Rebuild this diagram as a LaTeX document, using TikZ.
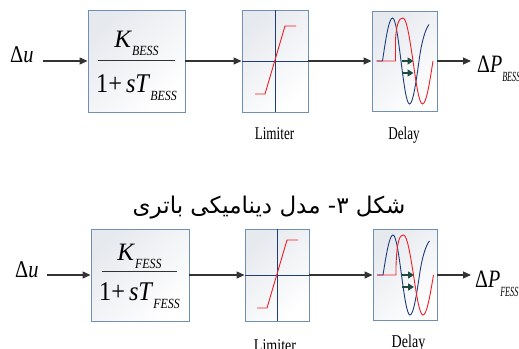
\documentclass[tikz,border=0pt]{standalone}
\usepackage{fontspec}
\setmainfont{Liberation Serif}
\newfontfamily\arabicfont[Script=Arabic]{DejaVu Sans}
\TeXXeTstate=1
\usetikzlibrary{arrows.meta}
\definecolor{boxedge}{HTML}{6F8FB5}
\definecolor{boxgray}{HTML}{E6E9EE}
\definecolor{axisblue}{HTML}{1F3C7A}
\definecolor{sigred}{HTML}{F01E23}
\definecolor{arrowgreen}{HTML}{1E4A40}
\definecolor{conncol}{HTML}{333333}
\newcommand\subtxt[2][-8pt]{\raisebox{#1}{\fontsize{14}{14}\selectfont\itshape\scalebox{0.85}[1]{#2}}}
\newcommand\outsub[1]{\raisebox{-9pt}{\fontsize{14}{14}\selectfont\itshape\scalebox{0.58}[1]{#1}}}
\newcommand\drawlimiter[1]{%
  \draw[axisblue, line width=0.9pt] (#1.north) -- (#1.south);
  \draw[axisblue, line width=0.9pt] (#1.west) -- (#1.east);
  \draw[sigred, line width=0.9pt] ([shift={(-20,33)}]#1.center) -- ([shift={(-10,33)}]#1.center)
     -- ([shift={(10,-35)}]#1.center) -- ([shift={(21,-35)}]#1.center);}
\newcommand\drawdelay[3]{%
  \draw[axisblue, line width=0.9pt] ([shift={(-28,0)}]#1.center) -- ([shift={(-22,0)}]#1.center)
     sin ([shift={(-12,-#2)}]#1.center) cos ([shift={(-3.5,0)}]#1.center)
     sin ([shift={(5,#2)}]#1.center) cos ([shift={(14.5,0)}]#1.center)
     .. controls ([shift={(17,-0.45*#2)}]#1.center) and ([shift={(21,-0.75*#2)}]#1.center) .. ([shift={(24.5,-0.85*#2)}]#1.center);
  \draw[sigred, line width=0.9pt] ([shift={(-28,0)}]#1.center) -- ([shift={(-9,0)}]#1.center)
     -- ([shift={(-9,-#3)}]#1.center)
     .. controls ([shift={(-8,-0.9*#2)}]#1.center) and ([shift={(-5,-#2)}]#1.center) .. ([shift={(-1.5,-#2)}]#1.center)
     cos ([shift={(8.5,0)}]#1.center) sin ([shift={(18,#2)}]#1.center) cos ([shift={(28.5,0)}]#1.center);
  \draw[garrow] ([shift={(-3,0)}]#1.center) -- ([shift={(9,0)}]#1.center);
  \draw[garrow] ([shift={(-3,12)}]#1.center) -- ([shift={(9,12)}]#1.center);}
\tikzset{
  blk/.style={draw=boxedge, line width=0.9pt, top color=boxgray, bottom color=white,
    shading angle=45, inner sep=0pt},
  conn/.style={draw=conncol, line width=1.1pt, -{Triangle[length=8pt,width=7pt]}},
  garrow/.style={draw=arrowgreen, line width=1.4pt, -{Triangle[length=6pt,width=7pt]}},
  lbl/.style={font=\fontsize{18}{18}\selectfont, inner sep=0pt},
  sig/.style={font=\fontsize{24}{24}\selectfont, inner sep=0pt},
  frac/.style={inner sep=0pt},
}
\begin{document}
\begin{tikzpicture}[x=1pt, y=-1pt]
\clip (0,0) rectangle (519,348);
\fill[white] (0,0) rectangle (519,348);
% ---------- top row ----------
\node[blk, minimum width=97pt, minimum height=102pt] (tf1) at (136.5,61) {};
\node[blk, minimum width=66pt, minimum height=102pt] (lim1) at (275,61) {};
\node[blk, minimum width=65pt, minimum height=100pt] (del1) at (404.5,61) {};
\node[sig, anchor=base west] (du1) at (10,62) {\scalebox{0.85}[1]{Δ\textit{u}}};
\coordinate (in1) at (43,61);
\coordinate (out1) at (471,61);
\node[frac, anchor=base] (num1) at (136.5,47) {\fontsize{25}{25}\selectfont\textit{K}\subtxt{BESS}};
\node[frac, anchor=base] (den1) at (136.5,92) {\fontsize{27}{27}\selectfont\scalebox{0.9}[1]{1+\,\textit{sT}}\subtxt{BESS}};
\draw[conncol, line width=1pt] (98,60) coordinate (fl1) -- (175,60) coordinate (fr1);
\drawlimiter{lim1}
\drawdelay{del1}{43}{21}
\draw[conn] (in1) -- (tf1.west);
\draw[conn] (tf1.east) -- (lim1.west);
\draw[conn] (lim1.east) -- (del1.west);
\draw[conn] (del1.east) -- (out1);
\node[sig, anchor=base west] (dp1) at (477,72) {\fontsize{25}{25}\selectfont\scalebox{0.8}[1]{Δ\textit{P}}\outsub{BESS}};
\node[lbl, anchor=base] (ll1) at (274.5,139) {\scalebox{0.73}[1]{Limiter}};
\node[lbl, anchor=base] (dl1) at (404,139) {\scalebox{0.73}[1]{Delay}};
% ---------- caption ----------
\node[anchor=base, inner sep=0pt] (cap) at (269,213) {\arabicfont\fontsize{23}{23}\selectfont\beginR شکل ۳- مدل دینامیکی باتری\endR};
% ---------- bottom row ----------
\node[blk, minimum width=98pt, minimum height=92pt] (tf2) at (140,275) {};
\node[blk, minimum width=64pt, minimum height=92pt] (lim2) at (277,275) {};
\node[blk, minimum width=64pt, minimum height=91pt] (del2) at (405,275) {};
\node[sig, anchor=base west] (du2) at (15,277) {\scalebox{0.85}[1]{Δ\textit{u}}};
\coordinate (in2) at (47,275);
\coordinate (out2) at (471,275);
\node[frac, anchor=base] (num2) at (139.5,260) {\fontsize{25}{25}\selectfont\textit{K}\subtxt{FESS}};
\node[frac, anchor=base] (den2) at (139.5,300) {\fontsize{27}{27}\selectfont\scalebox{0.9}[1]{1+\,\textit{sT}}\subtxt{FESS}};
\draw[conncol, line width=1pt] (102,271) coordinate (fl2) -- (177,271) coordinate (fr2);
\drawlimiter{lim2}
\drawdelay{del2}{40}{9}
\draw[conn] (in2) -- (tf2.west);
\draw[conn] (tf2.east) -- (lim2.west);
\draw[conn] (lim2.east) -- (del2.west);
\draw[conn] (del2.east) -- (out2);
\node[sig, anchor=base west] (dp2) at (475,287) {\fontsize{25}{25}\selectfont\scalebox{0.8}[1]{Δ\textit{P}}\outsub{FESS}};
\node[lbl, anchor=base] (ll2) at (275,351) {\scalebox{0.78}[1]{Limiter}};
\node[lbl, anchor=base] (dl2) at (408.5,347) {\scalebox{0.78}[1]{Delay}};
\end{tikzpicture}
\end{document}
